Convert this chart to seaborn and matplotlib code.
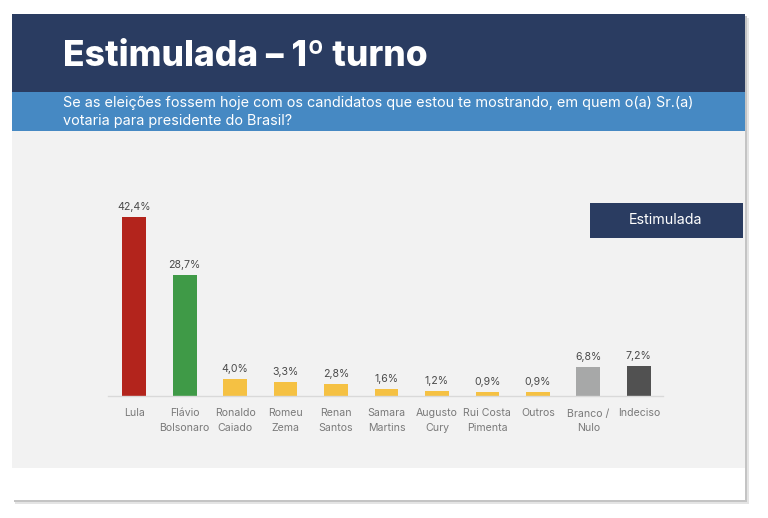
import matplotlib
matplotlib.use("Agg")
import matplotlib.pyplot as plt
from matplotlib.patches import Rectangle
import seaborn as sns
import pandas as pd

# data
candidatos = ["Lula", "Flávio\nBolsonaro", "Ronaldo\nCaiado", "Romeu\nZema", "Renan\nSantos",
              "Samara\nMartins", "Augusto\nCury", "Rui Costa\nPimenta", "Outros", "Branco /\nNulo", "Indeciso"]
percentuais = [42.4, 28.7, 4.0, 3.3, 2.8, 1.6, 1.2, 0.9, 0.9, 6.8, 7.2]
rotulos = ["42,4%", "28,7%", "4,0%", "3,3%", "2,8%", "1,6%", "1,2%", "0,9%", "0,9%", "6,8%", "7,2%"]
cores = ["#b3241c", "#3f9a47", "#f5c143", "#f5c143", "#f5c143", "#f5c143", "#f5c143",
         "#f5c143", "#f5c143", "#a7a8a8", "#515151"]

titulo = "Estimulada – 1º turno"
pergunta = ("Se as eleições fossem hoje com os candidatos que estou te mostrando, em quem o(a) Sr.(a)\n"
            "votaria para presidente do Brasil?")
caixa = "Estimulada"

df = pd.DataFrame({"candidato": candidatos, "pct": percentuais})

sns.set_theme(style="white")
plt.rcParams["font.family"] = ["Inter", "DejaVu Sans"]

W, H = 768, 518
fig = plt.figure(figsize=(W / 100, H / 100), dpi=100)
fig.patch.set_facecolor("white")


def px_rect(x0, y0, x1, y1, color, z=0):
    # rectangle given in pixel coords measured from the top-left
    fig.patches.append(Rectangle((x0 / W, 1 - y1 / H), (x1 - x0) / W, (y1 - y0) / H,
                                 transform=fig.transFigure, facecolor=color,
                                 edgecolor="none", zorder=z))


# slide page with a soft shadow
px_rect(15, 18, 749, 504, "#e4e4e4", z=-4)
px_rect(14, 16, 747, 502, "#c4c4c4", z=-3)
px_rect(12, 14, 745, 500, "white", z=-2)
px_rect(12, 131, 745, 468, "#f2f2f2", z=-1)
px_rect(12, 14, 745, 92, "#2a3c61", z=-1)
px_rect(12, 92, 745, 131, "#4689c3", z=-1)
px_rect(590, 203, 743, 238, "#2a3c61", z=-1)

fig.text(63 / W, 1 - 56 / H, titulo, color="white", fontsize=25.5, fontweight="heavy",
         va="center", ha="left")
fig.text(63 / W, 1 - 112 / H, pergunta, color="white", fontsize=10.4, va="center",
         ha="left", linespacing=1.3)
fig.text(666 / W, 1 - 220 / H, caixa, color="white", fontsize=10.3, va="center", ha="center")

ax = fig.add_axes([108 / W, 1 - 396 / H, (663 - 108) / W, 198 / H])
ax.set_facecolor("none")
sns.barplot(data=df, x="candidato", y="pct", hue="candidato", palette=cores,
            legend=False, width=0.47, ax=ax, saturation=1, linewidth=0)
ax.set_xlim(-0.52, 10.48)
ax.set_ylim(0, 47)

for i, (v, lab) in enumerate(zip(percentuais, rotulos)):
    ax.text(i, v + 1.2, lab, ha="center", va="bottom", fontsize=7.6, color="#4a4a4a")

ax.set_xlabel("")
ax.set_ylabel("")
ax.set_yticks([])
ax.tick_params(axis="x", length=0, pad=9, labelsize=7.6, labelcolor="#7a7a7a")
for t in ax.get_xticklabels():
    t.set_linespacing(1.6)
for s in ["top", "right", "left"]:
    ax.spines[s].set_visible(False)
ax.spines["bottom"].set_color("#d9d9d9")
ax.spines["bottom"].set_linewidth(1)

fig.savefig("out.png", dpi=100, facecolor="white")
